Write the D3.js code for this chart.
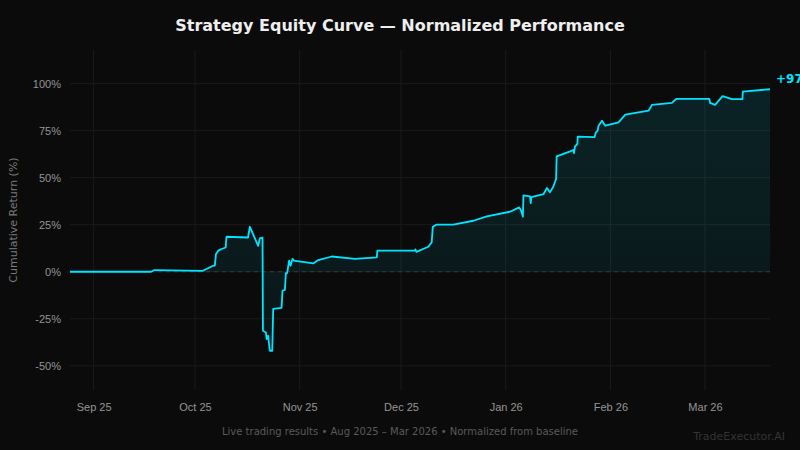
<!DOCTYPE html>
<html>
<head>
<meta charset="utf-8">
<script src="https://cdn.jsdelivr.net/npm/d3@7"></script>
<style>
  html, body { margin: 0; padding: 0; background: #0b0b0b; }
  svg { display: block; font-family: "DejaVu Sans", sans-serif; }
</style>
</head>
<body>
<script>
// equity curve readings (timestamp, cumulative return %)
var dates = [
  "2025-08-25T00:00", "2025-09-18T00:00", "2025-09-19T00:00", "2025-10-03T08:00",
  "2025-10-06T09:00", "2025-10-06T21:00", "2025-10-07T05:00", "2025-10-07T21:00",
  "2025-10-08T21:00", "2025-10-10T02:00", "2025-10-10T08:00", "2025-10-16T17:00",
  "2025-10-17T06:00", "2025-10-19T17:00", "2025-10-20T05:00", "2025-10-21T00:00",
  "2025-10-21T03:00", "2025-10-22T00:00", "2025-10-22T05:00", "2025-10-22T16:00",
  "2025-10-22T21:00", "2025-10-23T04:00", "2025-10-23T21:00", "2025-10-24T04:00",
  "2025-10-26T15:00", "2025-10-26T22:00", "2025-10-27T15:00", "2025-10-27T22:00",
  "2025-10-28T07:00", "2025-10-28T21:00", "2025-10-29T07:00", "2025-10-29T21:00",
  "2025-10-30T07:00", "2025-11-05T00:00", "2025-11-06T12:00", "2025-11-10T12:00",
  "2025-11-17T10:00", "2025-11-23T20:00", "2025-11-24T00:00", "2025-12-05T02:00",
  "2025-12-05T06:00", "2025-12-05T14:00", "2025-12-09T02:00", "2025-12-10T02:00",
  "2025-12-10T10:00", "2025-12-11T10:00", "2025-12-16T12:00", "2025-12-22T10:00",
  "2025-12-26T10:00", "2026-01-02T07:00", "2026-01-05T00:00", "2026-01-05T12:00",
  "2026-01-06T02:00", "2026-01-06T06:00", "2026-01-08T05:00", "2026-01-08T10:00",
  "2026-01-08T14:00", "2026-01-12T05:00", "2026-01-13T05:00", "2026-01-14T02:00",
  "2026-01-15T02:00", "2026-01-15T22:00", "2026-01-16T02:00", "2026-01-20T02:00",
  "2026-01-21T00:00", "2026-01-21T05:00", "2026-01-21T12:00", "2026-01-22T05:00",
  "2026-01-22T08:00", "2026-01-27T07:00", "2026-01-27T17:00", "2026-01-28T05:00",
  "2026-01-28T12:00", "2026-01-29T12:00", "2026-01-30T12:00", "2026-02-03T10:00",
  "2026-02-05T10:00", "2026-02-12T07:00", "2026-02-13T07:00", "2026-02-19T05:00",
  "2026-02-20T12:00", "2026-03-02T07:00", "2026-03-02T12:00", "2026-03-04T00:00",
  "2026-03-06T05:00", "2026-03-09T00:00", "2026-03-12T02:00", "2026-03-12T05:00",
  "2026-03-20T06:00"
];
var returns = [
  0, 0, 0.9, 0.5,
  3.2, 3.2, 9.3, 11.2,
  12.1, 12.9, 18.6, 18.2,
  23.9, 13.8, 17.7, 18.2,
  -31.4, -32.3, -35.8, -34.0,
  -37.5, -42.0, -42.0, -19.7,
  -19.2, -10.1, -9.6, -0.7,
  -0.7, 5.9, 3.2, 6.8,
  5.9, 4.4, 6.2, 8.1,
  6.8, 7.6, 11.2, 11.2,
  11.9, 10.6, 13.3, 15.6,
  23.9, 25.0, 25.0, 27.1,
  29.4, 31.9, 34.2, 32.8,
  29.3, 40.6, 40.0, 36.5,
  39.7, 41.3, 44.5, 42.2,
  45.2, 49.3, 61.3, 64.0,
  64.7, 63.1, 66.5, 68.0,
  71.8, 71.5, 74.1, 75.0,
  77.6, 80.3, 77.6, 79.4,
  83.5, 85.6, 88.7, 89.7,
  91.9, 91.9, 89.7, 88.7,
  93.3, 91.7, 91.7, 95.7,
  97.0
];
var yTicks = [-50, -25, 0, 25, 50, 75, 100];

var titleText = "Strategy Equity Curve \u2014 Normalized Performance";
var yLabel = "Cumulative Return (%)";
var footerText = "Live trading results \u2022 Aug 2025 \u2013 Mar 2026 \u2022 Normalized from baseline";
var brandText = "TradeExecutor.AI";

var W = 800, H = 450;
var margin = {top: 50, right: 30, bottom: 60, left: 70},
    width = W - margin.left - margin.right,
    height = H - margin.top - margin.bottom;

var parse = d3.timeParse("%Y-%m-%dT%H:%M");
var data = dates.map(function(d, i) { return {date: parse(d), value: returns[i]}; });

var x = d3.scaleTime()
    .domain(d3.extent(data, function(d) { return d.date; }))
    .range([0, width]);

var ext = d3.extent(data, function(d) { return d.value; });
var pad = (ext[1] - ext[0]) * 0.15;
var y = d3.scaleLinear()
    .domain([ext[0] - pad, ext[1] + pad])
    .range([height, 0]);

var svg = d3.select("body").append("svg")
    .attr("width", W)
    .attr("height", H);

svg.append("rect")
    .attr("width", W).attr("height", H)
    .attr("fill", "#0b0b0b");

// fill gradient
var grad = svg.append("defs").append("linearGradient")
    .attr("id", "eqfill")
    .attr("gradientUnits", "userSpaceOnUse")
    .attr("x1", 0).attr("x2", 0)
    .attr("y1", 0).attr("y2", height);
grad.append("stop").attr("offset", "0%").attr("stop-color", "#00e5ff").attr("stop-opacity", 0.12);
grad.append("stop").attr("offset", "100%").attr("stop-color", "#00e5ff").attr("stop-opacity", 0.04);

var g = svg.append("g")
    .attr("transform", "translate(" + margin.left + "," + margin.top + ")");

// grid
var monthTicks = d3.timeMonth.range(d3.timeMonth.ceil(x.domain()[0]), x.domain()[1]);

g.append("g")
    .selectAll("line")
    .data(yTicks)
    .enter()
    .append("line")
    .attr("x1", 0).attr("x2", width)
    .attr("y1", function(d) { return y(d); })
    .attr("y2", function(d) { return y(d); })
    .attr("stroke", "#1b1b1b")
    .attr("stroke-width", 1);

g.append("g")
    .selectAll("line")
    .data(monthTicks)
    .enter()
    .append("line")
    .attr("x1", function(d) { return x(d); })
    .attr("x2", function(d) { return x(d); })
    .attr("y1", 0).attr("y2", height)
    .attr("stroke", "#1b1b1b")
    .attr("stroke-width", 1);

// area + line
var area = d3.area()
    .x(function(d) { return x(d.date); })
    .y0(y(0))
    .y1(function(d) { return y(d.value); });

var line = d3.line()
    .x(function(d) { return x(d.date); })
    .y(function(d) { return y(d.value); });

g.append("path")
    .datum(data)
    .attr("fill", "url(#eqfill)")
    .attr("d", area);

// zero baseline
g.append("line")
    .attr("x1", 0).attr("x2", width)
    .attr("y1", y(0)).attr("y2", y(0))
    .attr("stroke", "#3a3a3a")
    .attr("stroke-width", 1)
    .style("stroke-dasharray", "4,4");

g.append("path")
    .datum(data)
    .attr("fill", "none")
    .attr("stroke", "#00e5ff")
    .attr("stroke-width", 1.8)
    .attr("stroke-linejoin", "round")
    .attr("d", line);

// axes
var xAxis = g.append("g")
    .attr("transform", "translate(0," + height + ")")
    .call(d3.axisBottom(x)
        .tickValues(monthTicks)
        .tickSize(0)
        .tickPadding(13)
        .tickFormat(d3.timeFormat("%b %y")));
xAxis.select(".domain").remove();
xAxis.selectAll("text")
    .attr("fill", "#959595")
    .style("font-size", "11px");

var yAxis = g.append("g")
    .call(d3.axisLeft(y)
        .tickValues(yTicks)
        .tickSize(0)
        .tickPadding(9)
        .tickFormat(function(d) { return d + "%"; }));
yAxis.select(".domain").remove();
yAxis.selectAll("text")
    .attr("fill", "#959595")
    .style("font-size", "11px");

// end label
var last = data[data.length - 1];
g.append("text")
    .attr("x", x(last.date) + 6)
    .attr("y", y(last.value) - 6)
    .attr("fill", "#00e5ff")
    .style("font-size", "12px")
    .style("font-weight", "bold")
    .text("+" + d3.format(".1f")(last.value) + "%");

// texts
svg.append("text")
    .attr("x", W / 2)
    .attr("y", 31)
    .attr("text-anchor", "middle")
    .attr("fill", "#eeeeee")
    .style("font-size", "16px")
    .style("font-weight", "bold")
    .text(titleText);

svg.append("text")
    .attr("transform", "translate(17," + (margin.top + height / 2) + ") rotate(-90)")
    .attr("text-anchor", "middle")
    .attr("fill", "#7a7a7a")
    .style("font-size", "11px")
    .text(yLabel);

svg.append("text")
    .attr("x", W / 2)
    .attr("y", 435)
    .attr("text-anchor", "middle")
    .attr("fill", "#5a5a5a")
    .style("font-size", "10px")
    .text(footerText);

svg.append("text")
    .attr("x", 785)
    .attr("y", 440)
    .attr("text-anchor", "end")
    .attr("fill", "#333333")
    .style("font-size", "11px")
    .text(brandText);
</script>
</body>
</html>
